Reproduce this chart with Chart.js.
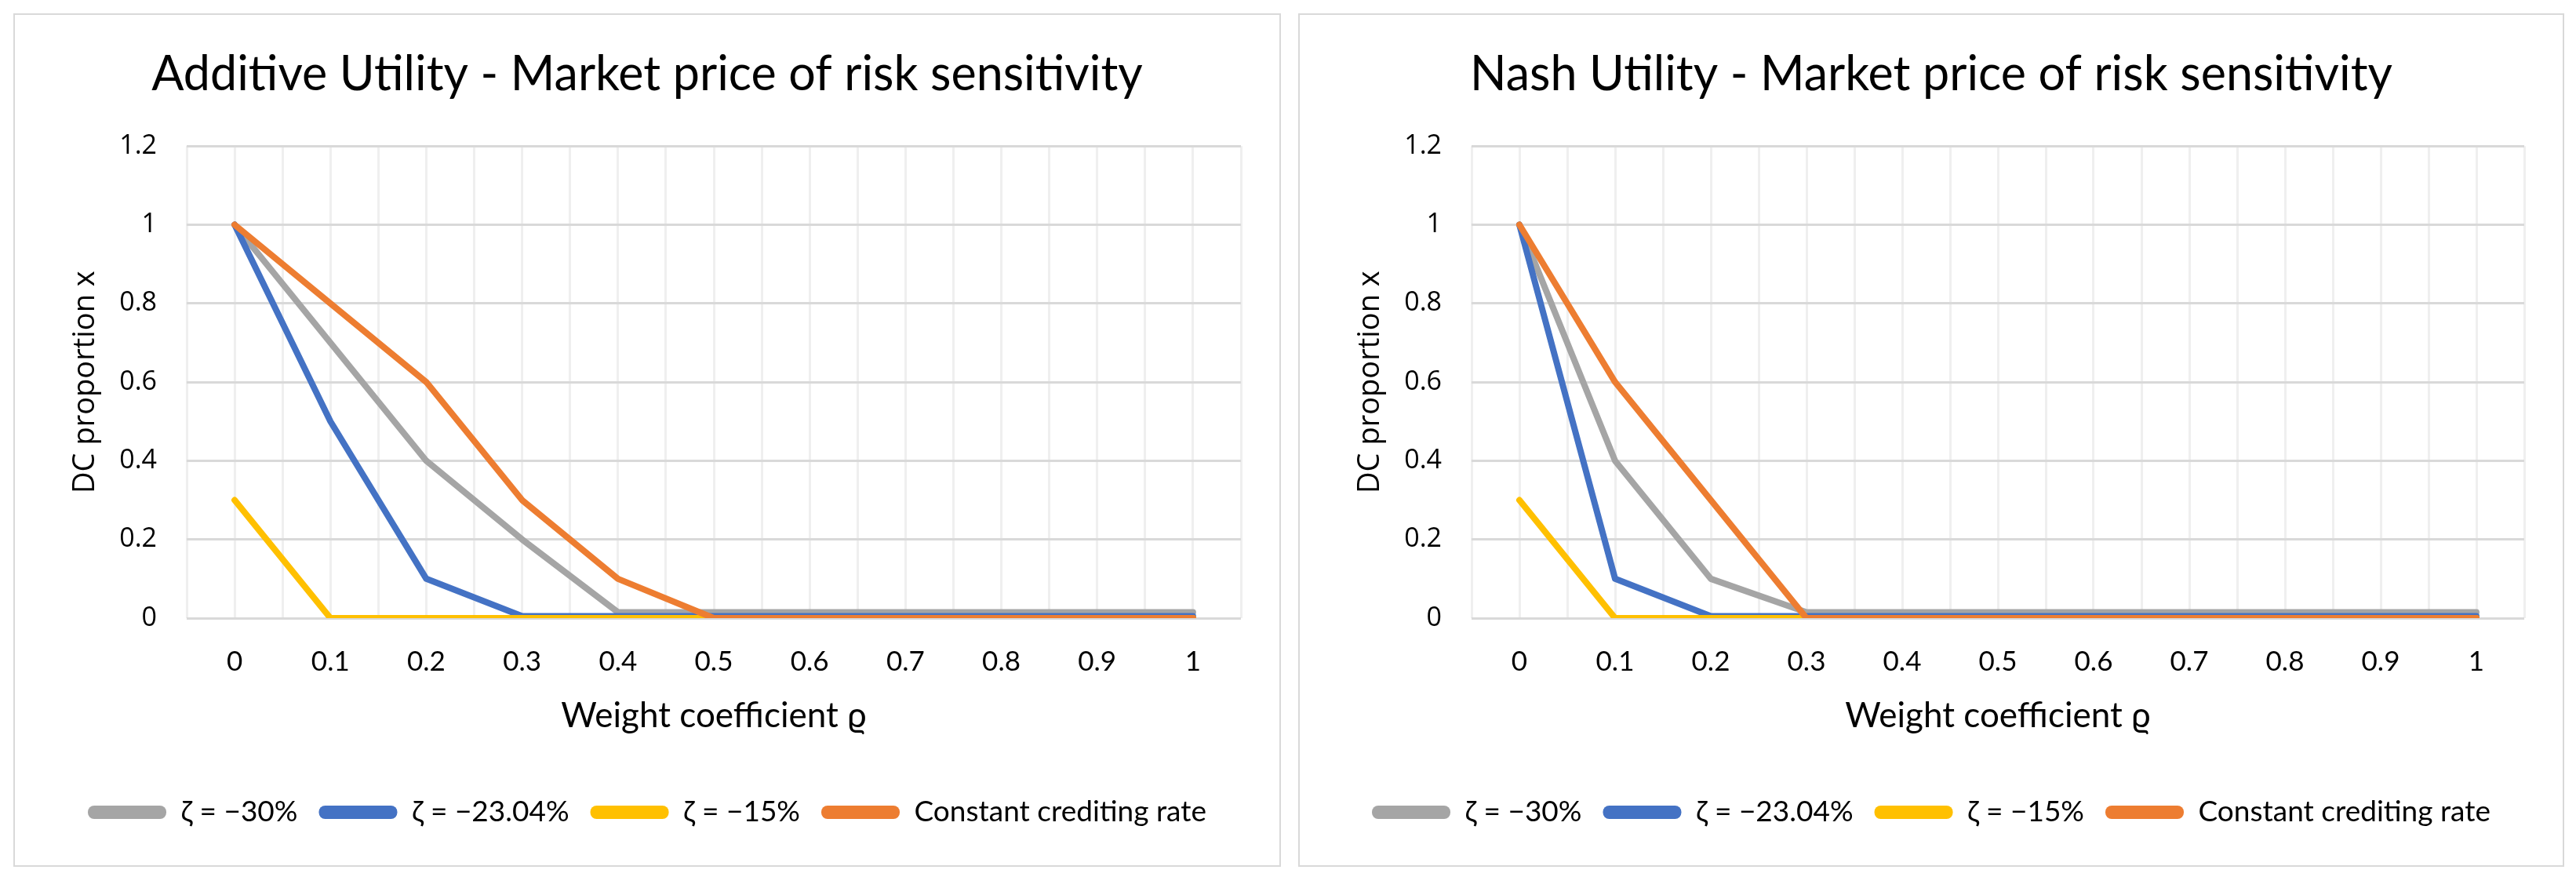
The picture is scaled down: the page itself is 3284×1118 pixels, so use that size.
<!DOCTYPE html>
<html>
<head>
<meta charset="utf-8">
<script src="https://cdn.jsdelivr.net/npm/chart.js@4.4.1/dist/chart.umd.min.js"></script>
<style>
  html, body { margin: 0; padding: 0; background: #fff; }
  body { width: 3284px; height: 1118px; position: relative; overflow: hidden; }
  .panel { position: absolute; top: 17px; height: 1088px; box-sizing: border-box; border: 2px solid #d9d9d9; background: #fff; }
  #p1 { left: 17px; width: 1616px; }
  #p2 { left: 1655px; width: 1614px; }
</style>
</head>
<body>
<div class="panel" id="p1"><canvas id="chartAdditive"></canvas></div>
<div class="panel" id="p2"><canvas id="chartNash"></canvas></div>
<script>
// Weight coefficient values (x) and their tick labels
const pesos = [0, 0.1, 0.2, 0.3, 0.4, 0.5, 0.6, 0.7, 0.8, 0.9, 1];
const etiquetasX = ['0', '0.1', '0.2', '0.3', '0.4', '0.5', '0.6', '0.7', '0.8', '0.9', '1'];
const valoresY = [0, 0.2, 0.4, 0.6, 0.8, 1, 1.2];
const etiquetasY = ['0', '0.2', '0.4', '0.6', '0.8', '1', '1.2'];

const nombresSeries = ['ζ = −30%', 'ζ = −23.04%', 'ζ = −15%', 'Constant crediting rate'];
const coloresSeries = ['#A5A5A5', '#4472C4', '#FFC000', '#ED7D31'];

// Additive utility
const aditivaZeta30 = [1, 0.7, 0.4, 0.2, 0.015, 0.015, 0.015, 0.015, 0.015, 0.015, 0.015];
const aditivaZeta2304 = [1, 0.5, 0.1, 0.005, 0.005, 0.005, 0.005, 0.005, 0.005, 0.005, 0.005];
const aditivaZeta15 = [0.3, 0, 0, 0, 0, 0, 0, 0, 0, 0, 0];
const aditivaConstante = [1, 0.8, 0.6, 0.3, 0.1, 0, 0, 0, 0, 0, 0];

// Nash utility
const nashZeta30 = [1, 0.4, 0.1, 0.015, 0.015, 0.015, 0.015, 0.015, 0.015, 0.015, 0.015];
const nashZeta2304 = [1, 0.1, 0.005, 0.005, 0.005, 0.005, 0.005, 0.005, 0.005, 0.005, 0.005];
const nashZeta15 = [0.3, 0, 0, 0, 0, 0, 0, 0, 0, 0, 0];
const nashConstante = [1, 0.6, 0.3, 0, 0, 0, 0, 0, 0, 0, 0];

function buscarEtiqueta(valores, etiquetas, v) {
  const idx = valores.findIndex(p => Math.abs(p - v) < 1e-6);
  return idx >= 0 ? etiquetas[idx] : '';
}

function crearGrafico(idCanvas, titulo, series) {
  const ctx = document.getElementById(idCanvas).getContext('2d');
  new Chart(ctx, {
    type: 'line',
    data: {
      datasets: series.map((valores, i) => ({
        label: nombresSeries[i],
        data: valores.map((v, j) => ({ x: pesos[j], y: v })),
        borderColor: coloresSeries[i],
        backgroundColor: coloresSeries[i],
        borderWidth: 8,
        borderCapStyle: 'round',
        borderJoinStyle: 'round',
        pointRadius: 0,
        tension: 0,
        order: series.length - i  // orange on top, gray at the bottom
      }))
    },
    options: {
      responsive: true,
      maintainAspectRatio: false,
      animation: false,
      layout: { padding: { left: 0, right: 0, top: 0, bottom: 39 } },
      plugins: {
        tooltip: { enabled: false },
        title: {
          display: true,
          text: titulo,
          color: '#000',
          font: { family: 'Lato', size: 61, weight: 'normal' },
          padding: { top: 40, bottom: 54 }
        },
        legend: {
          position: 'bottom',
          labels: {
            color: '#000',
            font: { family: 'Lato', size: 37 },
            boxWidth: 100,
            boxHeight: 17,
            useBorderRadius: true,
            borderRadius: 8,
            padding: 27,
            sort: (a, b) => a.datasetIndex - b.datasetIndex,
            generateLabels: (chart) => {
              return Chart.defaults.plugins.legend.labels.generateLabels(chart)
                .map(item => Object.assign(item, { lineWidth: 0 }));
            }
          }
        }
      },
      scales: {
        x: {
          type: 'linear',
          min: -0.05,
          max: 1.05,
          afterFit: (scale) => { scale.height = 202; },
          border: { display: false },
          grid: { color: '#efefef', lineWidth: 3, drawTicks: false },
          ticks: {
            stepSize: 0.05,
            padding: 35,
            color: '#000',
            font: { family: 'Lato', size: 35 },
            maxRotation: 0,
            autoSkip: false,
            callback: (valor) => buscarEtiqueta(pesos, etiquetasX, valor)
          },
          title: {
            display: true,
            text: 'Weight coefficient ϱ',
            color: '#000',
            font: { family: 'Lato', size: 44 },
            padding: { top: 0, bottom: 51 }
          }
        },
        y: {
          min: 0,
          max: 1.2,
          afterFit: (scale) => { scale.width = 219; },
          border: { display: false },
          grid: { color: '#d9d9d9', lineWidth: 3, drawTicks: false },
          ticks: {
            stepSize: 0.2,
            padding: 38,
            color: '#000',
            font: { family: 'Open Sans', size: 34 },
            callback: (valor) => buscarEtiqueta(valoresY, etiquetasY, valor)
          },
          title: {
            display: true,
            text: 'DC proportion x',
            color: '#000',
            font: { family: 'Open Sans', size: 38 },
            padding: { top: 67, bottom: 0 }
          }
        },
        // empty right margin so the title and legend stay centred on the panel
        margenDerecho: {
          position: 'right',
          axis: 'y',
          afterFit: (scale) => { scale.width = 49; },
          border: { display: false },
          grid: { display: false },
          ticks: { display: false }
        }
      }
    }
  });
}

crearGrafico('chartAdditive', 'Additive Utility - Market price of risk sensitivity',
  [aditivaZeta30, aditivaZeta2304, aditivaZeta15, aditivaConstante]);
crearGrafico('chartNash', 'Nash Utility - Market price of risk sensitivity',
  [nashZeta30, nashZeta2304, nashZeta15, nashConstante]);
</script>
</body>
</html>
